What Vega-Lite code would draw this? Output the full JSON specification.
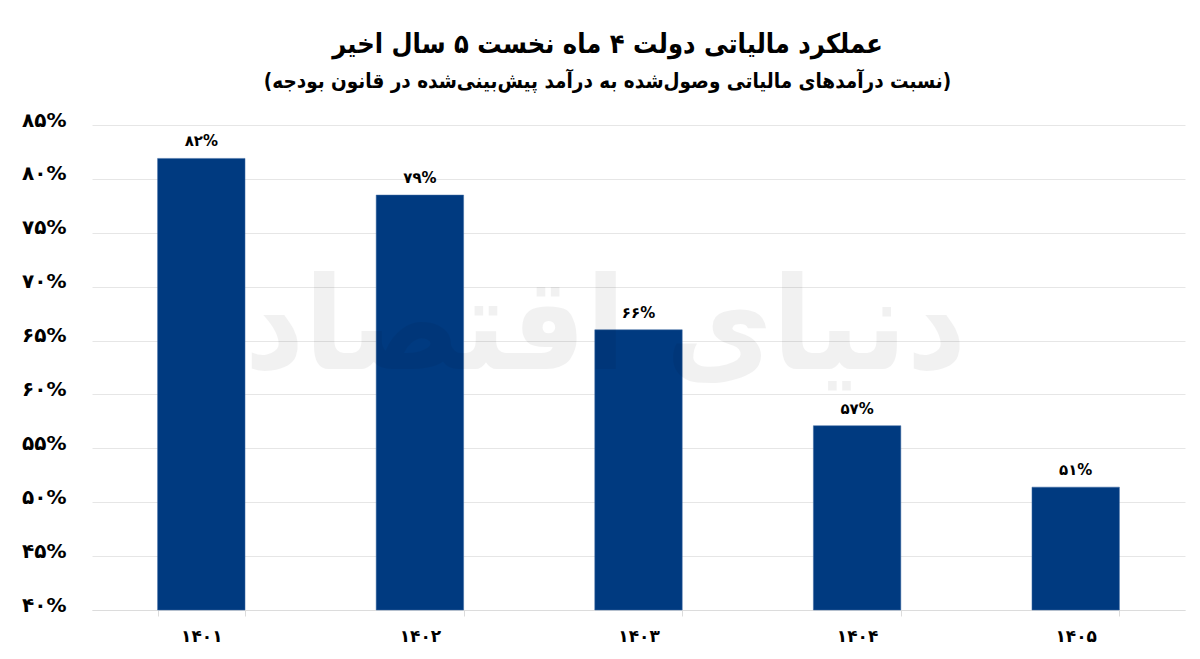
{
  "$schema": "https://vega.github.io/schema/vega-lite/v6.json",
  "width": 1093,
  "height": 485,
  "autosize": "none",
  "padding": {"left": 92, "top": 125, "right": 15, "bottom": 49},
  "background": "white",
  "title": {
    "text": "عملکرد مالیاتی دولت ۴ ماه نخست ۵ سال اخیر",
    "subtitle": "(نسبت درآمدهای مالیاتی وصول‌شده به درآمد پیش‌بینی‌شده در قانون بودجه)",
    "anchor": "middle",
    "dx": -31,
    "offset": 17,
    "font": "DejaVu Sans Condensed",
    "fontSize": 27,
    "fontWeight": "bold",
    "color": "#000000",
    "subtitleFont": "DejaVu Sans Condensed",
    "subtitleFontSize": 20.5,
    "subtitleFontWeight": "bold",
    "subtitleColor": "#000000",
    "subtitlePadding": 13
  },
  "data": {
    "values": [
      {"year": "۱۴۰۱", "value": 81.9, "label": "۸۲%"},
      {"year": "۱۴۰۲", "value": 78.5, "label": "۷۹%"},
      {"year": "۱۴۰۳", "value": 66.0, "label": "۶۶%"},
      {"year": "۱۴۰۴", "value": 57.1, "label": "۵۷%"},
      {"year": "۱۴۰۵", "value": 51.4, "label": "۵۱%"}
    ]
  },
  "encoding": {
    "x": {
      "field": "year",
      "type": "nominal",
      "sort": null,
      "title": null,
      "scale": {"paddingInner": 0.6, "paddingOuter": 0.3},
      "axis": {
        "labelAngle": 0,
        "labelFont": "DejaVu Sans",
        "labelFontSize": 17,
        "labelFontWeight": "bold",
        "labelColor": "#000000",
        "labelPadding": 12,
        "domainColor": "#dcdcdc",
        "tickColor": "#dcdcdc",
        "tickSize": 6,
        "tickBand": "extent"
      }
    },
    "y": {
      "field": "value",
      "type": "quantitative",
      "title": null,
      "scale": {"domain": [40, 85], "nice": false, "zero": false},
      "axis": {
        "values": [40, 45, 50, 55, 60, 65, 70, 75, 80, 85],
        "labelExpr": "({'40':'۴۰%','45':'۴۵%','50':'۵۰%','55':'۵۵%','60':'۶۰%','65':'۶۵%','70':'۷۰%','75':'۷۵%','80':'۸۰%','85':'۸۵%'})[datum.value]",
        "labelFont": "DejaVu Sans",
        "labelFontSize": 20,
        "labelFontWeight": "bold",
        "labelColor": "#000000",
        "labelPadding": 26,
        "labelOffset": -5,
        "domain": false,
        "ticks": false,
        "grid": true,
        "gridColor": "#e6e6e6",
        "gridWidth": 1
      }
    }
  },
  "layer": [
    {
      "mark": {"type": "bar", "color": "#003a80", "stroke": "#3f6aa3", "strokeWidth": 0.5},
      "encoding": {"y2": {"datum": 40}}
    },
    {
      "mark": {"type": "text", "font": "DejaVu Sans", "fontSize": 15, "fontWeight": "bold", "color": "#000000", "baseline": "middle", "dy": -17},
      "encoding": {"text": {"field": "label", "type": "nominal"}}
    },
    {
      "data": {"values": [{"year": "۱۴۰۳", "value": 66, "text": "دنیای اقتصاد"}]},
      "mark": {"type": "text", "font": "DejaVu Sans Condensed", "fontSize": 129, "fontWeight": "bold", "color": "#000000", "opacity": 0.05, "baseline": "middle", "dx": -33},
      "encoding": {"text": {"field": "text", "type": "nominal"}}
    }
  ],
  "config": {"view": {"stroke": null}}
}
